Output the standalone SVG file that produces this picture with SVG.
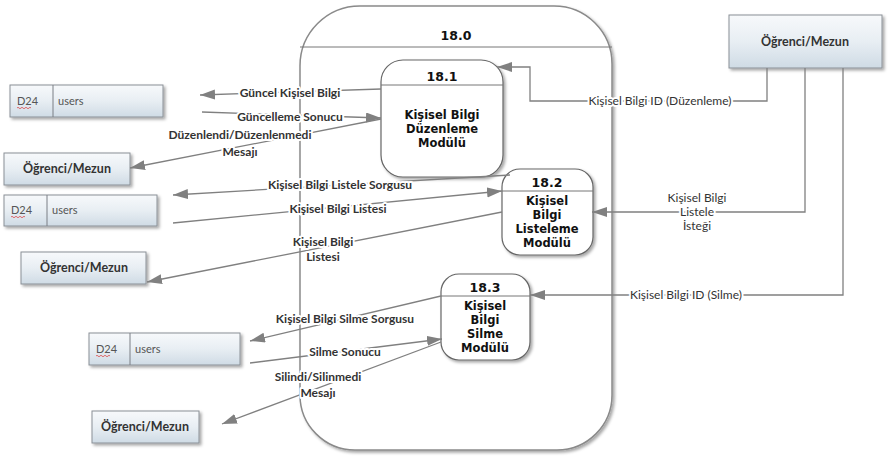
<svg xmlns="http://www.w3.org/2000/svg" width="895" height="456" viewBox="0 0 895 456">
<defs>
<linearGradient id="gEnt" x1="0" y1="0" x2="0" y2="1">
<stop offset="0" stop-color="#f7f9fb"/>
<stop offset="0.5" stop-color="#e8eef3"/>
<stop offset="1" stop-color="#cfdbe5"/>
</linearGradient>
<filter id="sh" x="-10%" y="-10%" width="125%" height="140%">
<feDropShadow dx="2" dy="2" stdDeviation="1.5" flood-color="#000" flood-opacity="0.35"/>
</filter>
<marker id="arr" markerUnits="userSpaceOnUse" markerWidth="16" markerHeight="12" refX="15" refY="5" orient="auto">
<path d="M0,0 L15,5 L0,10 Z" fill="#808080"/>
</marker>
</defs>
<style>
.ent{fill:url(#gEnt);stroke:#8a9096;stroke-width:1;filter:url(#sh)}
.entT{font-family:Lato,"Open Sans",sans-serif;font-weight:bold;font-size:12.5px;fill:#333;text-anchor:middle}
.stT{font-family:Lato,"Open Sans",sans-serif;font-size:11px;fill:#555}
.proc{fill:#fff;stroke:#666;stroke-width:1.2;filter:url(#sh)}
.hdr{stroke:#777;stroke-width:1}
.num{font-family:"DejaVu Sans",sans-serif;font-weight:bold;font-size:12.5px;fill:#111;text-anchor:middle}
.pt{font-family:"DejaVu Sans",sans-serif;font-weight:bold;font-size:11.5px;fill:#111;text-anchor:middle}
.ln{fill:none;stroke:#808080;stroke-width:1.3;marker-end:url(#arr)}
.lbl{font-family:Lato,"Open Sans",sans-serif;font-weight:bold;font-size:12px;fill:#333;text-anchor:middle;paint-order:stroke;stroke:#fff;stroke-width:4px;stroke-linejoin:round}
.rlbl{font-family:Lato,"Open Sans",sans-serif;font-size:12px;fill:#333;text-anchor:middle;paint-order:stroke;stroke:#fff;stroke-width:4px;stroke-linejoin:round}
</style>
<rect width="895" height="456" fill="#fff"/>

<g id="p18_0">
<path d="M300,66 A60,60 0 0 1 360,6 L554,6 A58,58 0 0 1 612,64 L612,395 A55,55 0 0 1 557,450 L355,450 A55,55 0 0 1 300,395 Z" fill="#fff" stroke="#8a8a8a" stroke-width="1.5" filter="url(#sh)"/>
<line x1="300" y1="47" x2="612" y2="47" class="hdr"/>
<text x="456" y="40" class="num">18.0</text>
</g>

<g id="p18_1">
<rect x="381" y="60" width="122" height="117" rx="22" class="proc"/>
<line x1="381" y1="85" x2="503" y2="85" class="hdr"/>
<text x="442" y="81" class="num">18.1</text>
<text x="442" y="119" class="pt">Kişisel Bilgi</text>
<text x="442" y="133" class="pt">Düzenleme</text>
<text x="442" y="147" class="pt">Modülü</text>
</g>

<g id="p18_2">
<rect x="502" y="169" width="91" height="86" rx="18" class="proc"/>
<line x1="502" y1="191" x2="593" y2="191" class="hdr"/>
<text x="547" y="187" class="num">18.2</text>
<text x="547" y="205" class="pt">Kişisel</text>
<text x="547" y="219" class="pt">Bilgi</text>
<text x="547" y="233" class="pt">Listeleme</text>
<text x="547" y="247" class="pt">Modülü</text>
</g>

<g id="p18_3">
<rect x="441" y="274" width="89" height="86" rx="18" class="proc"/>
<line x1="441" y1="296" x2="530" y2="296" class="hdr"/>
<text x="485" y="292" class="num">18.3</text>
<text x="485" y="310" class="pt">Kişisel</text>
<text x="485" y="324" class="pt">Bilgi</text>
<text x="485" y="338" class="pt">Silme</text>
<text x="485" y="352" class="pt">Modülü</text>
</g>

<g id="ent_top">
<rect x="729" y="15" width="153" height="53" class="ent"/>
<text x="805" y="46" class="entT">Öğrenci/Mezun</text>
</g>
<g id="ent_1">
<rect x="4" y="153" width="126" height="32" class="ent"/>
<text x="67" y="173" class="entT">Öğrenci/Mezun</text>
</g>
<g id="ent_2">
<rect x="21" y="252" width="125" height="32" class="ent"/>
<text x="84" y="272" class="entT">Öğrenci/Mezun</text>
</g>
<g id="ent_3">
<rect x="92" y="411" width="107" height="32" class="ent"/>
<text x="145" y="431" class="entT">Öğrenci/Mezun</text>
</g>

<g id="store_1">
<rect x="10" y="85" width="153" height="32" class="ent"/>
<line x1="53" y1="85" x2="53" y2="117" stroke="#7a7f85"/>
<text x="17" y="105" class="stT">D24</text>
<path d="M17,108 q1,-1.5 2,0 t2,0 t2,0 t2,0 t2,0 t2,0 t2,0" fill="none" stroke="#d33" stroke-width="0.7"/>
<text x="58" y="105" class="stT">users</text>
</g>
<g id="store_2">
<rect x="4" y="195" width="153" height="31" class="ent"/>
<line x1="47" y1="195" x2="47" y2="226" stroke="#7a7f85"/>
<text x="11" y="214" class="stT">D24</text>
<path d="M11,217 q1,-1.5 2,0 t2,0 t2,0 t2,0 t2,0 t2,0 t2,0" fill="none" stroke="#d33" stroke-width="0.7"/>
<text x="52" y="214" class="stT">users</text>
</g>
<g id="store_3">
<rect x="89" y="333" width="151" height="32" class="ent"/>
<line x1="130" y1="333" x2="130" y2="365" stroke="#7a7f85"/>
<text x="96" y="353" class="stT">D24</text>
<path d="M96,356 q1,-1.5 2,0 t2,0 t2,0 t2,0 t2,0 t2,0 t2,0" fill="none" stroke="#d33" stroke-width="0.7"/>
<text x="135" y="353" class="stT">users</text>
</g>

<g id="connectors">
<path class="ln" d="M381,89 L200,95"/>
<path class="ln" d="M202,112 L381,118"/>
<path class="ln" d="M381,119 L130,168"/>
<path class="ln" d="M510,175 L173,195"/>
<path class="ln" d="M173,223 L502,191"/>
<path class="ln" d="M502,212 L147,282"/>
<path class="ln" d="M441,296 L250,341"/>
<path class="ln" d="M250,363 L442,339"/>
<path class="ln" d="M441,342 L222,424"/>
<path class="ln" d="M767,68 V101 H530 V67 H497"/>
<path class="ln" d="M805,68 V212 H592"/>
<path class="ln" d="M843,68 V295 H530"/>

<text x="290" y="97" class="lbl">Güncel Kişisel Bilgi</text>
<text x="290" y="121" class="lbl">Güncelleme Sonucu</text>
<text x="240" y="139" class="lbl">Düzenlendi/Düzenlenmedi</text>
<text x="240" y="156" class="lbl">Mesajı</text>
<text x="340" y="189" class="lbl">Kişisel Bilgi Listele Sorgusu</text>
<text x="338" y="213" class="lbl">Kişisel Bilgi  Listesi</text>
<text x="323" y="246" class="lbl">Kişisel Bilgi</text>
<text x="323" y="261" class="lbl">Listesi</text>
<text x="345" y="323" class="lbl">Kişisel Bilgi Silme Sorgusu</text>
<text x="345" y="356" class="lbl">Silme Sonucu</text>
<text x="318" y="381" class="lbl">Silindi/Silinmedi</text>
<text x="318" y="397" class="lbl">Mesajı</text>
<text x="660" y="105" class="rlbl">Kişisel Bilgi  ID (Düzenleme)</text>
<text x="697" y="202" class="rlbl">Kişisel Bilgi</text>
<text x="697" y="216" class="rlbl">Listele</text>
<text x="697" y="230" class="rlbl">İsteği</text>
<text x="686" y="299" class="rlbl">Kişisel Bilgi  ID (Silme)</text>
</g>
</svg>
